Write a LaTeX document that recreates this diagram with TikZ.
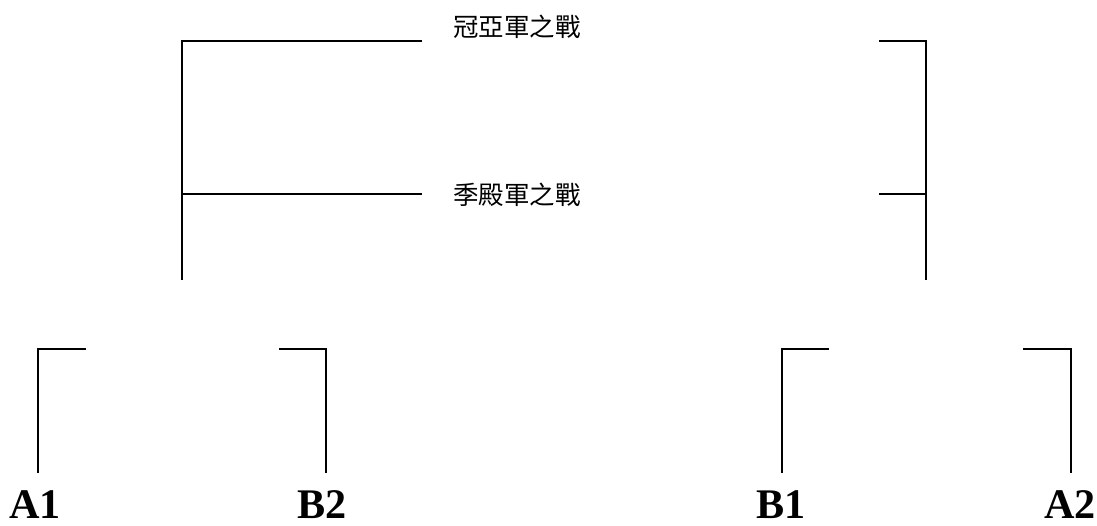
\documentclass[tikz,border=0pt]{standalone}
\usepackage{fontspec}
\setmainfont{Liberation Serif}
\newfontfamily\cjk{Noto Sans CJK TC}

\begin{document}
\begin{tikzpicture}[x=0.02cm,y=-0.02cm,line width=1.1pt,
	team/.style={font=\fontsize{24}{24}\selectfont\bfseries,inner sep=0pt},
	game/.style={font=\fontsize{14.5}{14.5}\selectfont\cjk,inner sep=0pt}]
\useasboundingbox (0,0) rectangle (1097,526);

% teams
\node (a1) at (35,505) [team] {A1};
\node (b2) at (322,505) [team] {B2};
\node (b1) at (781,505) [team] {B1};
\node (a2) at (1070,505) [team] {A2};

% games
\node (final) at (517,27) [game] {冠亞軍之戰};
\node (third) at (517,195) [game] {季殿軍之戰};

% first round
\draw (38,473) |- (86,349);
\draw (279,349) -| (326,473);
\draw (782,473) |- (829,349);
\draw (1023,349) -| (1071,473);

% final round
\draw (422,41) -| (182,280);
\draw (182,194) -- (422,194);
\draw (879,41) -| (926,280);
\draw (879,194) -- (926,194);
\end{tikzpicture}
\end{document}
